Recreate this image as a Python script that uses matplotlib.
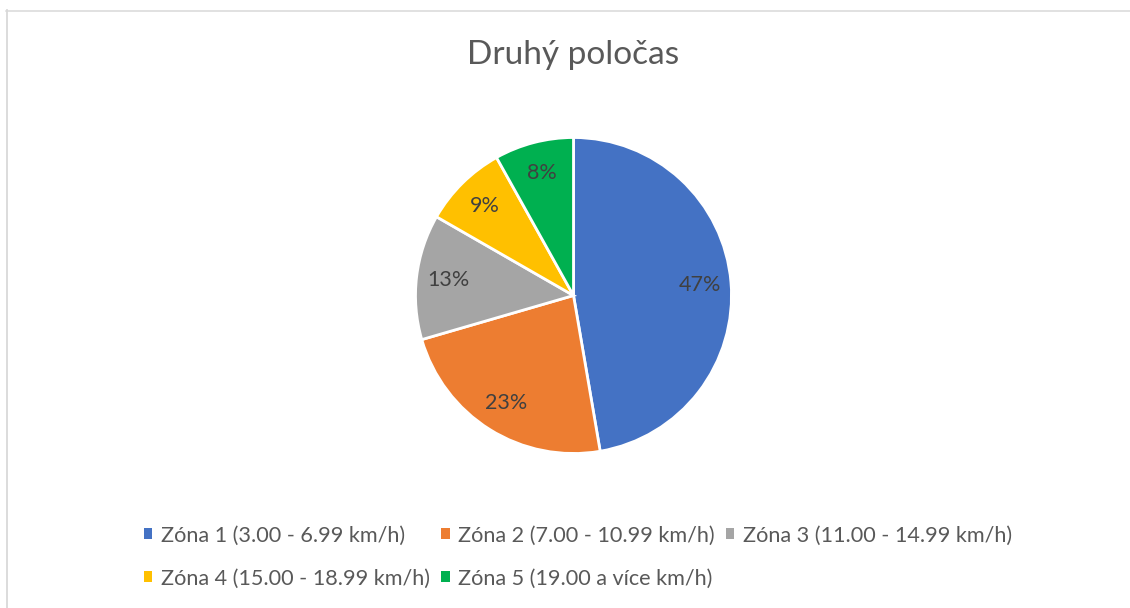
import matplotlib.pyplot as plt
from matplotlib.lines import Line2D

plt.rcParams["font.family"] = ["Lato", "DejaVu Sans"]

TITLE = "Druhý poločas"
zones = [
    "Zóna 1 (3.00 - 6.99 km/h)",
    "Zóna 2 (7.00 - 10.99 km/h)",
    "Zóna 3 (11.00 - 14.99 km/h)",
    "Zóna 4 (15.00 - 18.99 km/h)",
    "Zóna 5 (19.00 a více km/h)",
]
shares = [47.3, 23.2, 12.8, 8.6, 8.1]
colors = ["#4472c4", "#ed7d31", "#a5a5a5", "#ffc000", "#00b050"]

TEXT = "#595959"
LABEL = "#404040"
BORDER = "#d9d9d9"

W, H = 1130, 608
fig = plt.figure(figsize=(W / 100, H / 100), dpi=100)
fig.patch.set_facecolor("white")

# chart frame (only top and left edges visible in the crop)
fig.add_artist(Line2D([6.5 / W, 6.5 / W], [0, 1 - 10 / H], color=BORDER,
                      linewidth=1.3, transform=fig.transFigure))
fig.add_artist(Line2D([6 / W, 1], [1 - 10.5 / H, 1 - 10.5 / H], color=BORDER,
                      linewidth=1.1, transform=fig.transFigure))

# pie axes: centre (573.5, 295.5) px, radius 158 px
cx, cy, r = 573.5, 295.5, 158
ax = fig.add_axes([(cx - r) / W, (H - cy - r) / H, 2 * r / W, 2 * r / H])

wedges, texts, autotexts = ax.pie(
    shares,
    colors=colors,
    startangle=90,
    counterclock=False,
    autopct="%.0f%%",
    pctdistance=0.8,
    wedgeprops=dict(edgecolor="white", linewidth=2.0),
    textprops=dict(color=LABEL, fontsize=15.5),
)
ax.set_xlim(-1, 1)
ax.set_ylim(-1, 1)
ax.set_aspect("equal")
ax.axis("off")

fig.text(573 / W, 1 - 55 / H, TITLE, ha="center", va="center",
         fontsize=24, color=TEXT)

# legend fills column-wise, so reorder to read row by row
order = [0, 3, 1, 4, 2]
leg = fig.legend(
    [wedges[i] for i in order],
    [zones[i] for i in order],
    loc="center",
    bbox_to_anchor=(578 / W, 1 - 557 / H),
    ncol=3,
    frameon=False,
    fontsize=15.6,
    handlelength=0.4,
    handleheight=0.4,
    handletextpad=0.4,
    columnspacing=0.5,
    labelspacing=1.05,
)
for t in leg.get_texts():
    t.set_color(TEXT)
for h in leg.legend_handles:
    h.set_edgecolor("none")

fig.savefig("out.png", dpi=100, facecolor="white")
